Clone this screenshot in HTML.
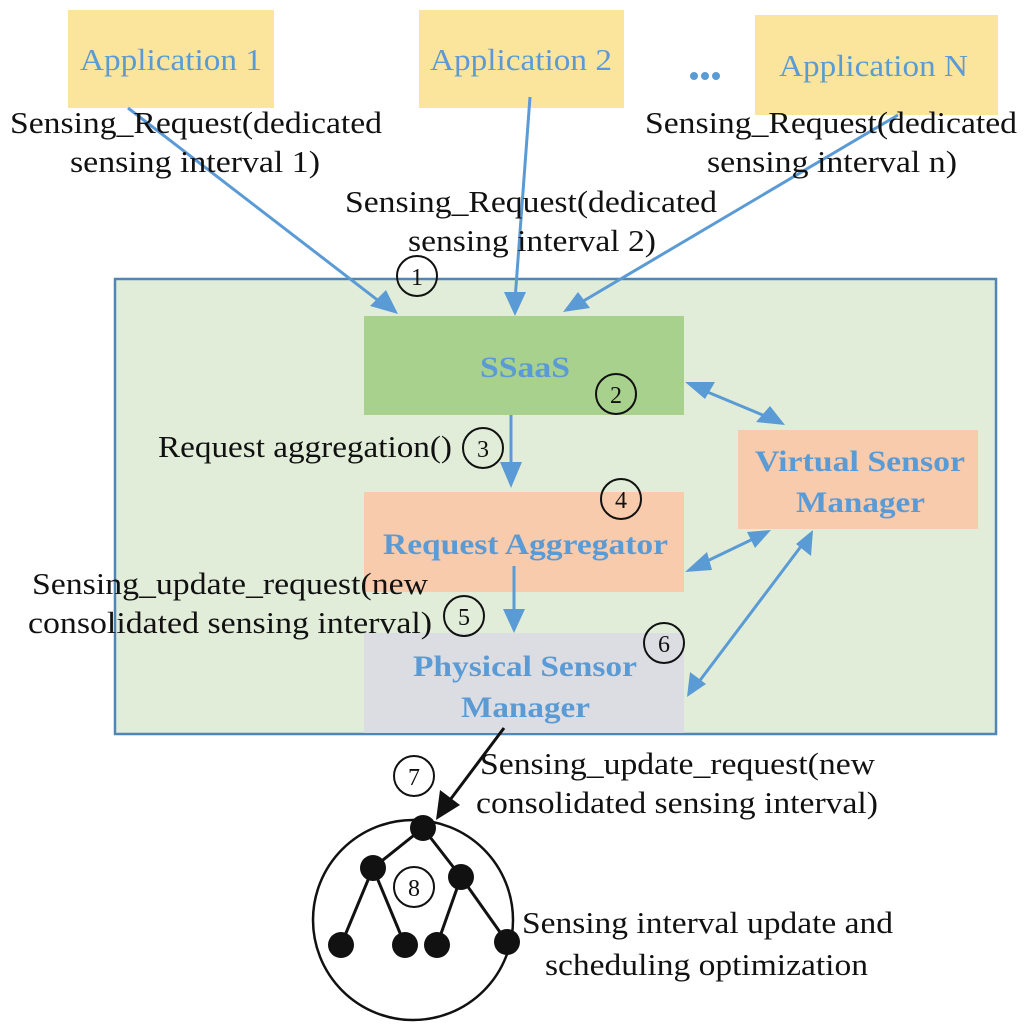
<!DOCTYPE html>
<html><head><meta charset="utf-8"><style>
body{margin:0;background:#fff}
svg{display:block}
.t{font-family:"Liberation Serif",serif;font-size:31px;fill:#111}
.b{font-family:"Liberation Serif",serif;font-size:30px;font-weight:bold;fill:#5b9bd5}
.a{font-family:"Liberation Serif",serif;font-size:31px;fill:#5b9bd5}
.n{font-family:"Liberation Serif",serif;font-size:24px;fill:#111}
</style></head><body>
<svg width="1024" height="1036" viewBox="0 0 1024 1036" xmlns="http://www.w3.org/2000/svg">
<rect x="68" y="10" width="206" height="98" fill="#fbe49c"/>
<rect x="419" y="10" width="205" height="98" fill="#fbe49c"/>
<rect x="755" y="15" width="243" height="100" fill="#fbe49c"/>
<text class="a" x="80" y="70" textLength="182" lengthAdjust="spacingAndGlyphs">Application 1</text>
<text class="a" x="430" y="70" textLength="182" lengthAdjust="spacingAndGlyphs">Application 2</text>
<text class="a" x="779" y="76" textLength="189" lengthAdjust="spacingAndGlyphs">Application N</text>
<circle cx="694" cy="76" r="4" fill="#5b9bd5"/><circle cx="705" cy="76" r="4" fill="#5b9bd5"/><circle cx="716" cy="76" r="4" fill="#5b9bd5"/>
<rect x="115" y="279" width="881" height="455" fill="#e2edd9" stroke="#4f86b5" stroke-width="2.5"/>
<rect x="364" y="316" width="320" height="99" fill="#a9d18e"/>
<rect x="364" y="492" width="320" height="100" fill="#f8cbad"/>
<rect x="364" y="633" width="320" height="100" fill="#dcdde2"/>
<rect x="738" y="430" width="240" height="99" fill="#f8cbad"/>
<text class="b" x="480" y="377" textLength="90" lengthAdjust="spacingAndGlyphs">SSaaS</text>
<text class="b" x="383" y="554" textLength="285" lengthAdjust="spacingAndGlyphs">Request Aggregator</text>
<text class="b" x="413" y="676" textLength="224" lengthAdjust="spacingAndGlyphs">Physical Sensor</text>
<text class="b" x="461" y="717" textLength="129" lengthAdjust="spacingAndGlyphs">Manager</text>
<text class="b" x="755" y="471" textLength="210" lengthAdjust="spacingAndGlyphs">Virtual Sensor</text>
<text class="b" x="796" y="512" textLength="129" lengthAdjust="spacingAndGlyphs">Manager</text>
<g stroke="#5b9bd5" stroke-width="3" fill="none">
<line x1="128" y1="108" x2="384" y2="305"/>
<line x1="530" y1="97" x2="515" y2="300"/>
<line x1="898" y1="115" x2="580" y2="303"/>
<line x1="511" y1="415" x2="511" y2="470"/>
<line x1="514" y1="566" x2="514" y2="615"/>
<line x1="705" y1="391" x2="765" y2="416"/>
<line x1="703" y1="563" x2="753" y2="539"/>
<line x1="698" y1="683" x2="802" y2="545"/>
</g>
<g fill="#5b9bd5">
<polygon points="398,314 370,306 386,290"/>
<polygon points="515,316 504,292 526,292"/>
<polygon points="563,312 578,292 590,308"/>
<polygon points="511,488 500,462 522,462"/>
<polygon points="514,633 503,609 525,609"/>
<polygon points="685,382 715,382 705,399"/>
<polygon points="785,425 770,406 756,422"/>
<polygon points="685,572 707,552 712,570"/>
<polygon points="771,530 747,532 755,548"/>
<polygon points="687,697 690,672 706,684"/>
<polygon points="813,530 796,544 811,556"/>
</g>
<text class="t" x="10" y="133" textLength="372" lengthAdjust="spacingAndGlyphs">Sensing_Request(dedicated</text>
<text class="t" x="70" y="172" textLength="250" lengthAdjust="spacingAndGlyphs">sensing interval 1)</text>
<text class="t" x="645" y="133" textLength="372" lengthAdjust="spacingAndGlyphs">Sensing_Request(dedicated</text>
<text class="t" x="707" y="172" textLength="250" lengthAdjust="spacingAndGlyphs">sensing interval n)</text>
<text class="t" x="345" y="212" textLength="372" lengthAdjust="spacingAndGlyphs">Sensing_Request(dedicated</text>
<text class="t" x="408" y="251" textLength="248" lengthAdjust="spacingAndGlyphs">sensing interval 2)</text>
<text class="t" x="158" y="457" textLength="294" lengthAdjust="spacingAndGlyphs">Request aggregation()</text>
<text class="t" x="32" y="594" textLength="396" lengthAdjust="spacingAndGlyphs">Sensing_update_request(new</text>
<text class="t" x="28" y="633" textLength="404" lengthAdjust="spacingAndGlyphs">consolidated sensing interval)</text>
<text class="t" x="480" y="774" textLength="395" lengthAdjust="spacingAndGlyphs">Sensing_update_request(new</text>
<text class="t" x="476" y="813" textLength="402" lengthAdjust="spacingAndGlyphs">consolidated sensing interval)</text>
<text class="t" x="522" y="933" textLength="371" lengthAdjust="spacingAndGlyphs">Sensing interval update and</text>
<text class="t" x="545" y="975" textLength="323" lengthAdjust="spacingAndGlyphs">scheduling optimization</text>
<g fill="none" stroke="#111" stroke-width="2">
<circle cx="417" cy="276" r="20"/><circle cx="616" cy="394" r="20"/>
<circle cx="483" cy="448" r="20"/><circle cx="621" cy="499" r="20"/>
<circle cx="464" cy="616" r="20"/><circle cx="664" cy="643" r="20"/>
<circle cx="414" cy="776" r="20"/><circle cx="414" cy="887" r="20"/>
</g>
<g text-anchor="middle">
<text class="n" x="417" y="285">1</text><text class="n" x="616" y="403">2</text>
<text class="n" x="483" y="457">3</text><text class="n" x="621" y="508">4</text>
<text class="n" x="464" y="625">5</text><text class="n" x="664" y="652">6</text>
<text class="n" x="414" y="785">7</text><text class="n" x="414" y="896">8</text>
</g>
<line x1="504" y1="728" x2="450" y2="800" stroke="#111" stroke-width="3"/>
<polygon points="436,820 440,790 460,805" fill="#111"/>
<circle cx="413" cy="920" r="100" fill="none" stroke="#111" stroke-width="2.5"/>
<g stroke="#111" stroke-width="3">
<line x1="423" y1="828" x2="373" y2="868"/><line x1="423" y1="828" x2="461" y2="877"/>
<line x1="373" y1="868" x2="341" y2="945"/><line x1="373" y1="868" x2="405" y2="945"/>
<line x1="461" y1="877" x2="437" y2="945"/><line x1="461" y1="877" x2="507" y2="942"/>
</g>
<g fill="#111">
<circle cx="423" cy="828" r="13"/><circle cx="373" cy="868" r="13"/><circle cx="461" cy="877" r="13"/>
<circle cx="341" cy="945" r="13"/><circle cx="405" cy="945" r="13"/><circle cx="437" cy="945" r="13"/><circle cx="507" cy="942" r="13"/>
</g>
</svg>
</body></html>
